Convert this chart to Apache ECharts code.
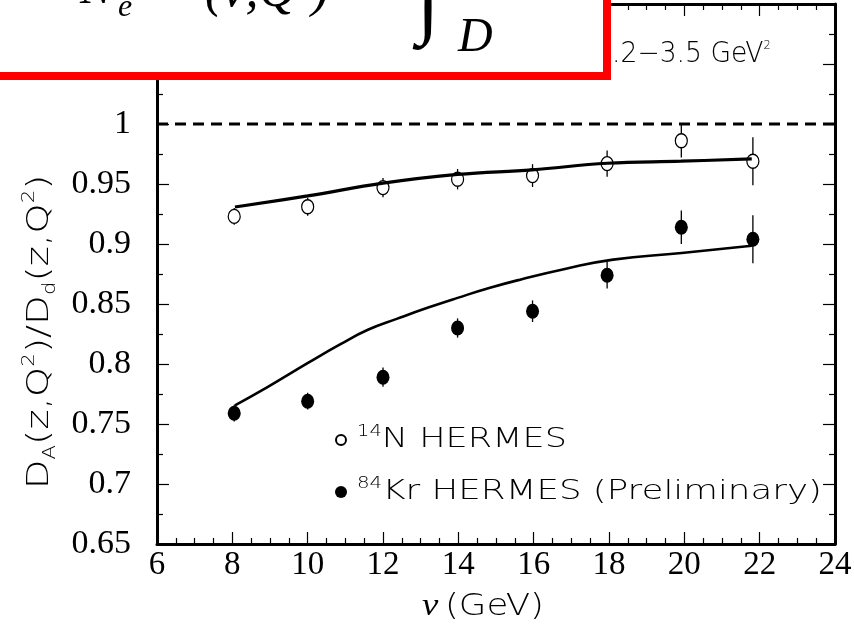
<!DOCTYPE html>
<html><head><meta charset="utf-8">
<script src="https://cdn.jsdelivr.net/npm/echarts@6/dist/echarts.min.js"></script>
<style>html,body{margin:0;padding:0;background:#fff}#c{width:854px;height:633px}</style>
</head><body><div id="c"></div>
<script>
// ---- data ----
const nu = [8.05, 10.0, 12.0, 13.98, 15.97, 17.95, 19.92, 21.82];
const nVals = [0.923, 0.931, 0.947, 0.954, 0.957, 0.967, 0.986, 0.969];
const nErr = [0.007, 0.0075, 0.008, 0.0085, 0.0095, 0.011, 0.014, 0.02];
const krVals = [0.759, 0.769, 0.789, 0.830, 0.844, 0.874, 0.914, 0.904];
const krErr = [0.007, 0.007, 0.008, 0.008, 0.009, 0.011, 0.014, 0.02];
const nCurveX = [8.07, 10.0, 12.0, 13.98, 15.96, 17.95, 19.91, 21.79];
const nCurveY = [0.9308, 0.9401, 0.9507, 0.958, 0.9618, 0.9673, 0.969, 0.9709];
const krCurveX = [8.07, 8.91, 10.02, 10.86, 11.6, 12.4, 13.2, 13.98, 14.84, 15.64, 16.8, 18.11, 19.93, 21.79];
const krCurveY = [0.7656, 0.7803, 0.8011, 0.8163, 0.8285, 0.838, 0.847, 0.8551, 0.8635, 0.8703, 0.879, 0.887, 0.8925, 0.8986];
const xRange = [6, 24], xStep = 2;
const yRange = [0.65, 1.1], yStep = 0.05;
const yLabelMax = 1.0;
const refLine = 1.0;

const SERIF = "'Liberation Serif', 'Times New Roman', serif";
const SANS = "'DejaVu Sans', sans-serif";

const chart = echarts.init(document.getElementById('c'), null, {renderer: 'canvas'});

function errData(vals, errs) {
  return nu.map((x, i) => [x, vals[i] - errs[i], vals[i] + errs[i]]);
}
function errRender(params, api) {
  const x = api.value(0);
  const p1 = api.coord([x, api.value(1)]);
  const p2 = api.coord([x, api.value(2)]);
  return {type: 'line', shape: {x1: p1[0], y1: p1[1], x2: p2[0], y2: p2[1]},
          style: {stroke: '#000', lineWidth: 1.3}};
}
const axisLine = {show: true, onZero: false, lineStyle: {color: '#000', width: 3}};
const axisTick = {show: true, inside: true, length: 12, lineStyle: {color: '#000', width: 1.2}};
const minorTick = n => ({show: true, splitNumber: n, length: 6, lineStyle: {color: '#000', width: 1.2}});

const option = {
  backgroundColor: '#fff',
  animation: false,
  grid: {left: 157, right: 19, top: 4, bottom: 89, containLabel: false, outerBoundsMode: 'none'},
  xAxis: [
    {type: 'value', min: xRange[0], max: xRange[1], interval: xStep, position: 'bottom',
     axisLine, axisTick, minorTick: minorTick(4), splitLine: {show: false},
     axisLabel: {color: '#000', fontFamily: SERIF, fontSize: 33, margin: 5}},
    {type: 'value', min: xRange[0], max: xRange[1], interval: xStep, position: 'top',
     axisLine, axisTick, minorTick: minorTick(4), splitLine: {show: false}, axisLabel: {show: false}}
  ],
  yAxis: [
    {type: 'value', min: yRange[0], max: yRange[1], interval: yStep, position: 'left',
     axisLine, axisTick, minorTick: minorTick(2), splitLine: {show: false},
     axisLabel: {color: '#000', fontFamily: SERIF, fontSize: 34, margin: 26,
       formatter: v => (v > yLabelMax + 1e-6 ? '' : String(+v.toFixed(2)))}},
    {type: 'value', min: yRange[0], max: yRange[1], interval: yStep, position: 'right',
     axisLine, axisTick, minorTick: minorTick(2), splitLine: {show: false}, axisLabel: {show: false}}
  ],
  series: [
    {type: 'line', name: 'ref', data: [[xRange[0], refLine], [xRange[1], refLine]], symbol: 'none',
     lineStyle: {color: '#000', width: 3, type: [11, 7]}, z: 2},
    {type: 'custom', name: 'N err', renderItem: errRender, data: errData(nVals, nErr), z: 3},
    {type: 'custom', name: 'Kr err', renderItem: errRender, data: errData(krVals, krErr), z: 3},
    {type: 'scatter', name: '14N HERMES', data: nu.map((x, i) => [x, nVals[i]]), symbol: 'circle',
     symbolSize: [12, 14], itemStyle: {color: '#fff', borderColor: '#000', borderWidth: 1.3, opacity: 1}, z: 4},
    {type: 'scatter', name: '84Kr HERMES', data: nu.map((x, i) => [x, krVals[i]]), symbol: 'circle',
     symbolSize: [13, 15], itemStyle: {color: '#000', opacity: 1}, z: 4},
    {type: 'line', name: 'N curve', data: nCurveX.map((x, i) => [x, nCurveY[i]]), symbol: 'none', smooth: 0.4,
     lineStyle: {color: '#000', width: 3.2}, z: 5},
    {type: 'line', name: 'Kr curve', data: krCurveX.map((x, i) => [x, krCurveY[i]]), symbol: 'none', smooth: 0.5,
     lineStyle: {color: '#000', width: 2.6}, z: 5}
  ],
  graphic: [
    // y-axis title
    {type: 'text', x: 40, y: 332, rotation: Math.PI / 2, scaleX: 1.25, z: 10,
     style: {text: '{m|D}{sb|A}{m|(z,Q}{sp|2}{m|)/D}{sb|d}{m|(z,Q}{sp|2}{m|)}', align: 'center', verticalAlign: 'middle',
       rich: {m: {fontFamily: SANS, fontSize: 31, fontWeight: 200, lineHeight: 38, fill: '#000'},
              sb: {fontFamily: SANS, fontSize: 17, fontWeight: 200, lineHeight: 16, verticalAlign: 'bottom', fill: '#000'},
              sp: {fontFamily: SANS, fontSize: 17, fontWeight: 200, lineHeight: 16, verticalAlign: 'top', fill: '#000'}}}},
    // x-axis title
    {type: 'text', x: 483, y: 607, scaleX: 1.15, z: 10,
     style: {text: '{i|ν}{s| }{m|(GeV)}', align: 'center', verticalAlign: 'middle',
       rich: {i: {fontFamily: SERIF, fontStyle: 'italic', fontSize: 32, fill: '#000'},
              s: {fontFamily: SANS, fontSize: 18},
              m: {fontFamily: SANS, fontSize: 31, fontWeight: 200, fill: '#000'}}}},
    // Q2 range
    {type: 'text', x: 612, y: 55, scaleX: 0.95, z: 10,
     style: {text: '{m|.2−3.5 GeV}{sp|2}', align: 'left', verticalAlign: 'middle',
       rich: {m: {fontFamily: SANS, fontSize: 28, fontWeight: 200, lineHeight: 30, fill: '#000'},
              sp: {fontFamily: SANS, fontSize: 12, fontWeight: 200, lineHeight: 13, verticalAlign: 'top', fill: '#000'}}}},
    // legend
    {type: 'circle', shape: {cx: 341, cy: 440, r: 5}, style: {fill: '#fff', stroke: '#000', lineWidth: 2}, z: 10},
    {type: 'text', x: 357, y: 440, scaleX: 1.3, z: 10,
     style: {text: '{sp|14}{m|N HERMES}', align: 'left', verticalAlign: 'middle',
       rich: {m: {fontFamily: SANS, fontSize: 27, fontWeight: 200, lineHeight: 30, fill: '#000'},
              sp: {fontFamily: SANS, fontSize: 15, fontWeight: 200, lineHeight: 18, verticalAlign: 'top', fill: '#000'}}}},
    {type: 'circle', shape: {cx: 341, cy: 492, r: 6}, style: {fill: '#000'}, z: 10},
    {type: 'text', x: 357, y: 492, scaleX: 1.32, z: 10,
     style: {text: '{sp|84}{m|Kr HERMES (Preliminary)}', align: 'left', verticalAlign: 'middle',
       rich: {m: {fontFamily: SANS, fontSize: 27, fontWeight: 200, lineHeight: 30, fill: '#000'},
              sp: {fontFamily: SANS, fontSize: 15, fontWeight: 200, lineHeight: 18, verticalAlign: 'top', fill: '#000'}}}},
    // red-framed formula box (clipped at the top of the page)
    {type: 'group', z: 20, children: [
      {type: 'rect', shape: {x: -10, y: -10, width: 617, height: 86},
       style: {fill: '#fff', stroke: '#ff0000', lineWidth: 8}, z: 20},
      {type: 'text', x: 80, y: -10, z: 21, style: {text: 'N', fontFamily: SERIF, fontStyle: 'italic', fontSize: 48, fill: '#000', verticalAlign: 'middle'}},
      {type: 'text', x: 118, y: 8, z: 21, style: {text: 'e', fontFamily: SERIF, fontStyle: 'italic', fontSize: 32, fill: '#000', verticalAlign: 'middle'}},
      {type: 'text', x: 205, y: -8, z: 21, style: {text: '(ν,Q²)', fontFamily: SERIF, fontStyle: 'italic', fontSize: 52, fill: '#000', verticalAlign: 'middle'}},
      {type: 'text', x: 417, y: 6, z: 21, style: {text: '∫', fontFamily: SERIF, fontSize: 82, fill: '#000', verticalAlign: 'middle'}},
      {type: 'text', x: 458, y: 38, z: 21, style: {text: 'D', fontFamily: SERIF, fontStyle: 'italic', fontSize: 48, fill: '#000', verticalAlign: 'middle'}}
    ]}
  ]
};
chart.setOption(option);
</script></body></html>
